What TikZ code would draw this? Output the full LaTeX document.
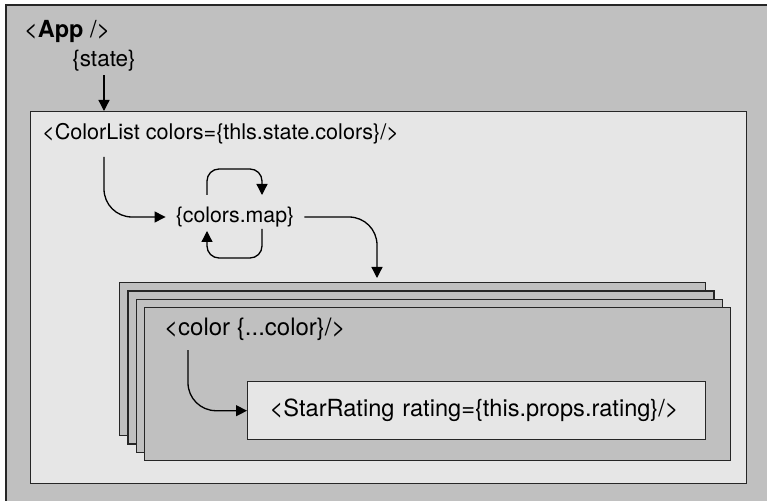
\documentclass[tikz,border=0pt]{standalone}
\usepackage{fontspec}
\setmainfont{TeX Gyre Heros}
\usetikzlibrary{arrows.meta,positioning,calc}
\definecolor{panelgray}{HTML}{C0C0C0}
\definecolor{panellight}{HTML}{E6E6E6}
\definecolor{edgegray}{HTML}{262626}
\newcommand{\fsize}[1]{\fontsize{#1bp}{#1bp}\selectfont}

\begin{document}
\begin{tikzpicture}[
  x=1bp, y=-1bp,
  font=\fsize{21},
  panel/.style={rectangle, draw=edgegray, line width=1.4bp, fill=panelgray, anchor=north west, inner sep=0pt},
  inset/.style={panel, fill=panellight},
  stackbox/.style={panel, minimum width=586bp, minimum height=153bp},
  label/.style={anchor=west, inner sep=0pt},
  line/.style={draw, line width=1.3bp, -{Triangle[length=11bp, width=11bp]}}
]
\useasboundingbox (0,0) rectangle (767,501);
\fill[white] (0,0) rectangle (767,501);

% App
\node[panel, line width=2bp, minimum width=800bp, minimum height=520bp] (app) at (5,4) {};
\node[label, font=\fsize{23.5}] (apptag) at (24,31) {<\textbf{App} />};
\node[font=\fsize{22.5}] (state) at (104,61) {\{state\}};

% ColorList
\node[inset, minimum width=716bp, minimum height=372bp] (colorlist) at (30,111) {};
\node[label, font=\fsize{21.6}] (cltag) at (42,134) {<ColorList colors=\{thls.state.colors\}/>};
\node[inner sep=10bp, font=\fsize{21.3}] (map) at (235,217) {\{colors.map\}};

% one Color per entry
\node[stackbox] (stack1) at (119,282) {};
\node[stackbox] (stack2) at (127.3,290.3) {};
\node[stackbox] (stack3) at (135.7,298.7) {};
\node[stackbox] (stack4) at (144,307) {};
\node[label, font=\fsize{24}] (colortag) at (164,329) {<color \{...color\}/>};
\node[inset, anchor=north west, text width=414bp, inner xsep=22bp, minimum height=58bp, align=left, font=\fsize{23.6}] (star) at (247,381) {<StarRating rating=\{this.props.rating\}/>};

\path[line] (state.south) -- (state.south |- colorlist.north);
\path[line, rounded corners=28bp] ($(cltag.west)+(62,23)$) |- (map.west);
\path[line, rounded corners=12bp] ($(map.center)+(-28,-22)$) -- ++(0,-26) -| ($(map.center)+(27,-22)$);
\path[line, rounded corners=12bp] ($(map.center)+(27,12)$) -- ++(0,29) -| ($(map.center)+(-28,14)$);
\path[line, rounded corners=28bp] (map.east) -| ($(stack1.north west)+(258,-4)$);
\path[line, rounded corners=28bp] ($(colortag.west)+(24,21)$) |- (star.west);

\end{tikzpicture}
\end{document}
